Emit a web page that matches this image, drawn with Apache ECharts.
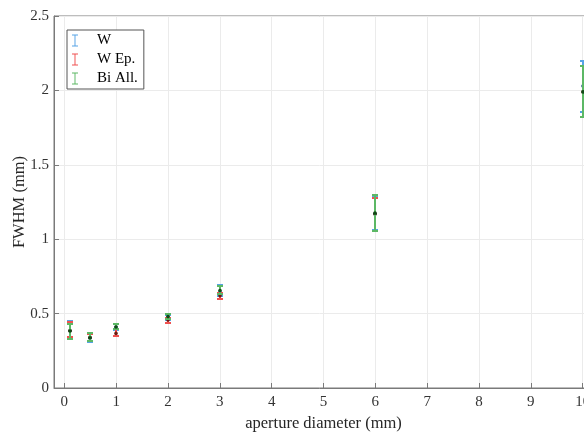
<!DOCTYPE html>
<html>
<head>
<meta charset="utf-8">
<script src="https://cdn.jsdelivr.net/npm/echarts@6/dist/echarts.min.js"></script>
<style>html,body{margin:0;padding:0;background:#fff}#c{width:584px;height:433px}</style>
</head>
<body>
<div id="c"></div>
<script>
var apertures = [0.1, 0.5, 1, 2, 3, 6, 10];
var xTicks = [0, 1, 2, 3, 4, 5, 6, 7, 8, 9, 10];

var wMid = [0.385, 0.335, 0.41, 0.475, 0.645, 1.17, 2.03];
var wLow = [0.34, 0.307, 0.39, 0.46, 0.618, 1.06, 1.857];
var wHigh = [0.45, 0.372, 0.433, 0.49, 0.692, 1.29, 2.198];

var wepMid = [0.385, 0.34, 0.367, 0.457, 0.62, 1.17, 1.99];
var wepLow = [0.34, 0.315, 0.35, 0.44, 0.597, 1.057, 1.82];
var wepHigh = [0.443, 0.365, 0.395, 0.472, 0.64, 1.28, 2.165];

var biMid = [0.383, 0.338, 0.41, 0.48, 0.655, 1.175, 1.99];
var biLow = [0.33, 0.316, 0.395, 0.465, 0.635, 1.057, 1.82];
var biHigh = [0.43, 0.368, 0.43, 0.497, 0.686, 1.295, 2.166];

function rows(mid, low, high) {
  return apertures.map(function (x, i) { return [x, mid[i], low[i], high[i]]; });
}

function makeSeries(name, color, dot, mid, low, high) {
  return {
    type: 'custom',
    name: name,
    itemStyle: { color: color },
    data: rows(mid, low, high),
    renderItem: function (params, api) {
      var x = api.value(0);
      var c = api.coord([x, api.value(1)]);
      var lo = api.coord([x, api.value(2)]);
      var hi = api.coord([x, api.value(3)]);
      var px = Math.round(c[0]);
      var yl = Math.round(lo[1]), yh = Math.round(hi[1]);
      var w = 3;
      var st = { stroke: color, lineWidth: 2, opacity: 1 };
      return {
        type: 'group',
        children: [
          { type: 'line', shape: { x1: px, y1: yh, x2: px, y2: yl }, style: st },
          { type: 'line', shape: { x1: px - w, y1: yh, x2: px + w, y2: yh }, style: st },
          { type: 'line', shape: { x1: px - w, y1: yl, x2: px + w, y2: yl }, style: st },
          { type: 'circle', shape: { cx: px, cy: c[1], r: 1.8 }, style: { fill: dot } }
        ]
      };
    }
  };
}

var serif = 'Liberation Serif, Times New Roman, serif';
var icon = 'path://M0,0H10V1.5H5.8V18.5H10V20H0V18.5H4.2V1.5H0Z';
var chart = echarts.init(document.getElementById('c'));
chart.setOption({
  animation: false,
  grid: { left: 54, top: 16, width: 539, bottom: 45, show: true, borderColor: '#7a7a7a', borderWidth: 1, backgroundColor: 'transparent', outerBoundsMode: 'none', containLabel: false },
  legend: {
    left: 67, top: 30, orient: 'vertical',
    backgroundColor: '#fff', borderColor: '#555', borderWidth: 1,
    padding: [3, 6, 3, 5], itemGap: 4, itemWidth: 6, itemHeight: 14,
    textStyle: { fontFamily: serif, fontSize: 15, color: '#000', padding: [0, 0, 0, 14] },
    data: [
      { name: 'W', icon: icon },
      { name: 'W Ep.', icon: icon },
      { name: 'Bi All.', icon: icon }
    ]
  },
  xAxis: {
    type: 'value', min: -0.2, max: 10.2,
    name: 'aperture diameter (mm)', nameLocation: 'middle', nameGap: 27, nameMoveOverlap: false,
    nameTextStyle: { fontFamily: serif, fontSize: 16.5, color: '#262626' },
    axisLine: { onZero: false, lineStyle: { color: '#7a7a7a' } },
    axisTick: { inside: true, length: 5, customValues: xTicks, lineStyle: { color: '#7a7a7a' } },
    axisLabel: { customValues: xTicks, fontFamily: serif, fontSize: 15, color: '#333', margin: 7 },
    splitLine: { show: true, lineStyle: { color: '#ebebeb' } }
  },
  yAxis: {
    type: 'value', min: 0, max: 2.5, interval: 0.5,
    name: 'FWHM (mm)', nameLocation: 'middle', nameGap: 26, nameMoveOverlap: false,
    nameTextStyle: { fontFamily: serif, fontSize: 16.5, color: '#262626' },
    axisLine: { show: true, onZero: false, lineStyle: { color: '#7a7a7a' } },
    axisTick: { show: true, inside: true, length: 5, lineStyle: { color: '#7a7a7a' } },
    axisLabel: { fontFamily: serif, fontSize: 15, color: '#333', margin: 5 },
    splitLine: { show: true, lineStyle: { color: '#ebebeb' } }
  },
  series: [
    makeSeries('W', '#56a3e6', '#1d4f80', wMid, wLow, wHigh),
    makeSeries('W Ep.', '#f05050', '#6a1a10', wepMid, wepLow, wepHigh),
    makeSeries('Bi All.', '#5cb865', '#0f4a16', biMid, biLow, biHigh)
  ]
});
</script>
</body>
</html>
